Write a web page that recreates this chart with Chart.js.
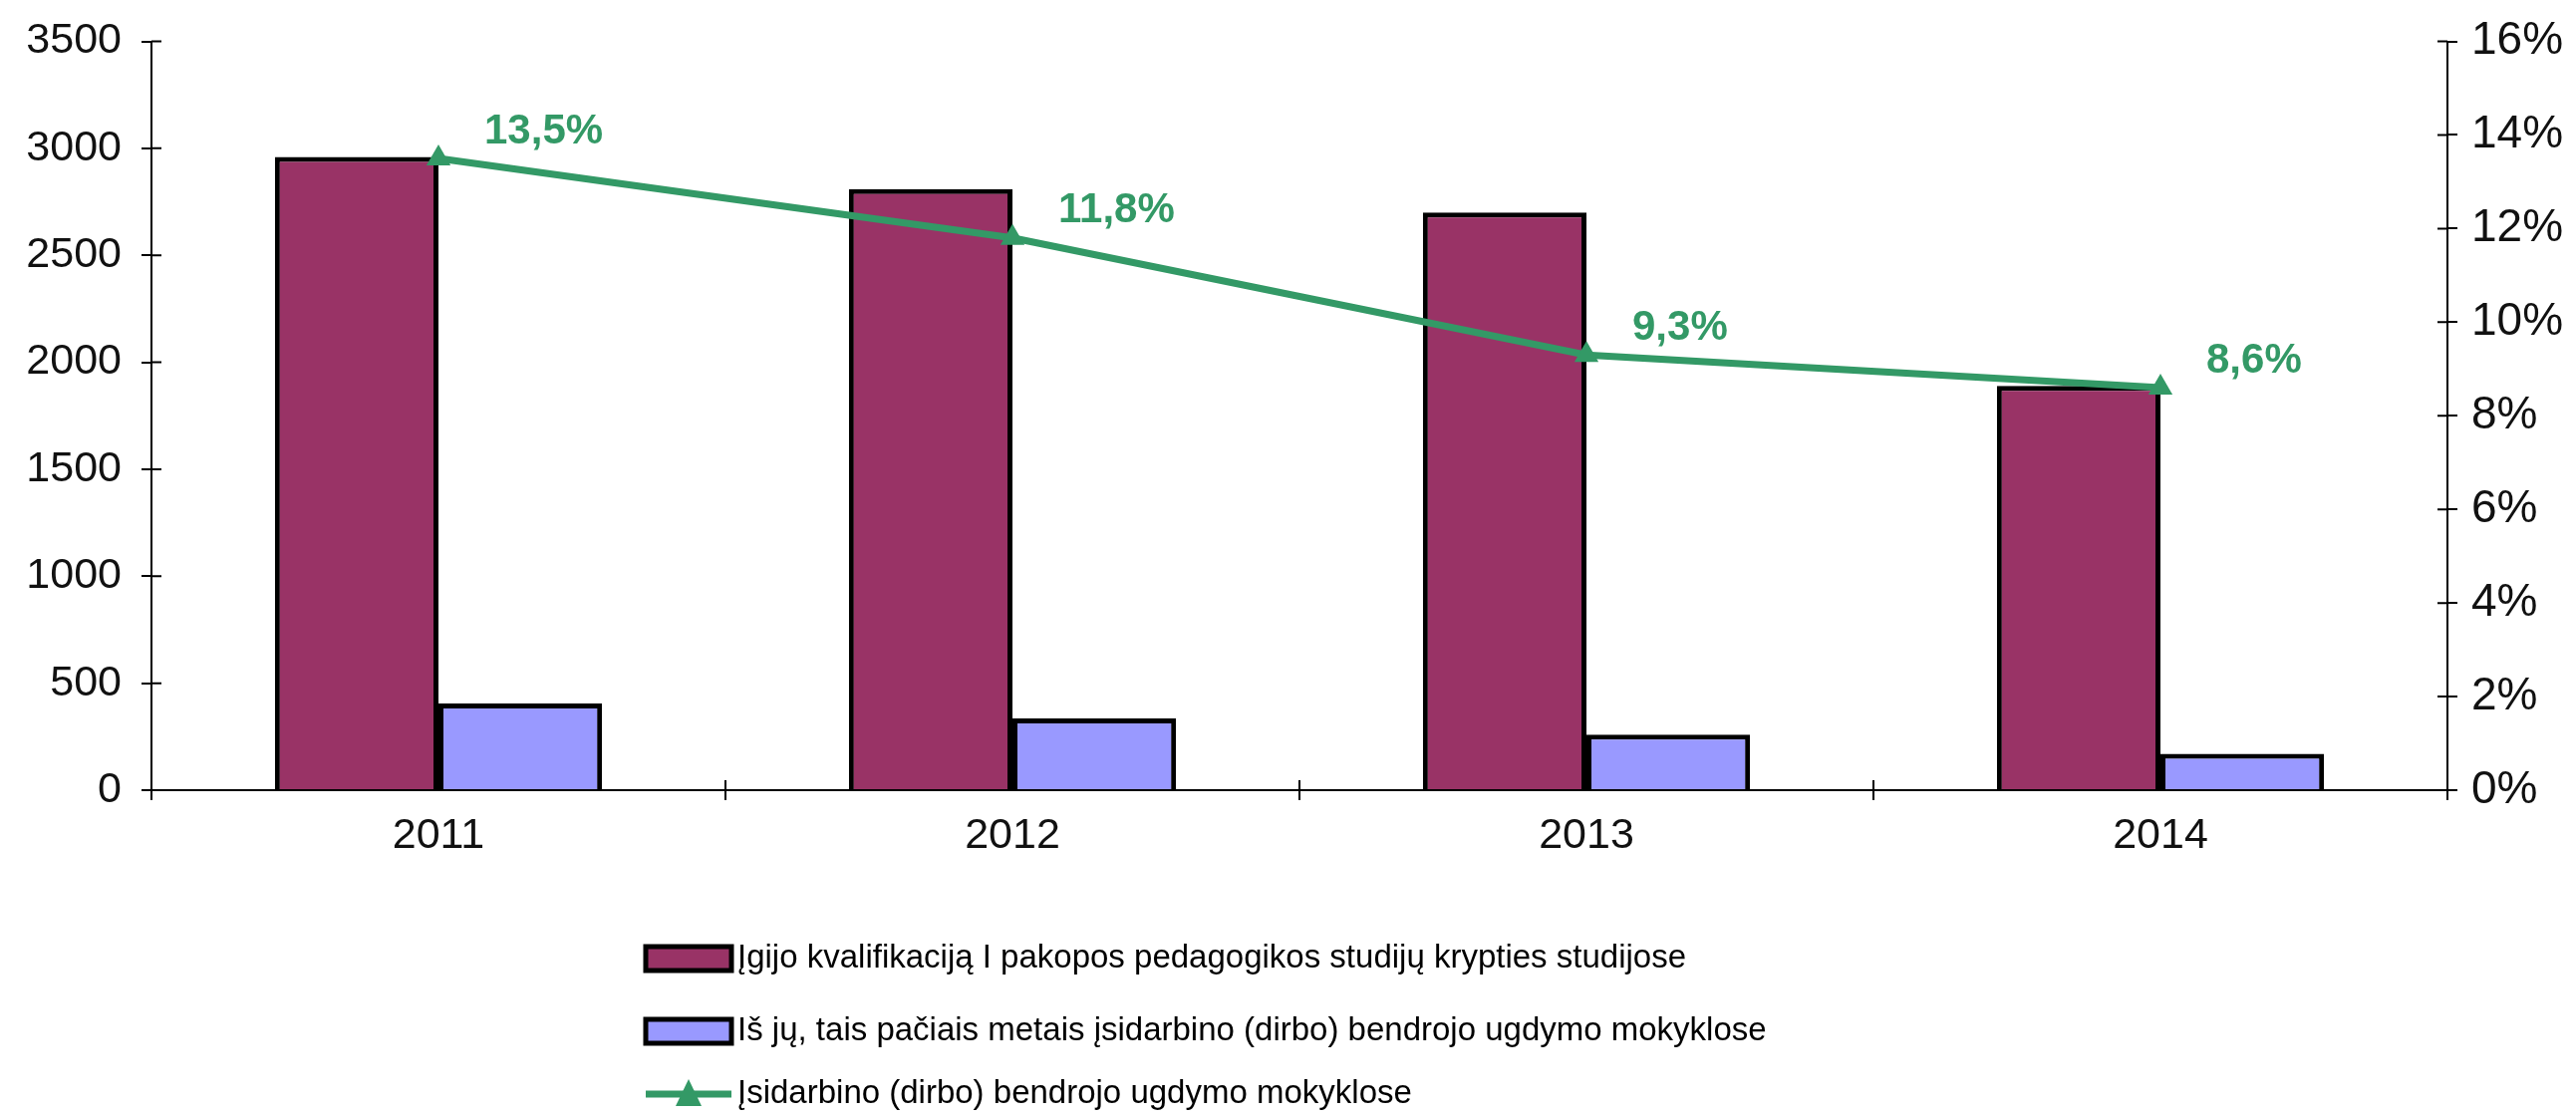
<!DOCTYPE html>
<html>
<head>
<meta charset="utf-8">
<script src="https://cdn.jsdelivr.net/npm/chart.js@4/dist/chart.umd.min.js"></script>
<style>
  html, body { margin: 0; padding: 0; background: #fff; }
  #wrap { width: 2585px; height: 1121px; position: relative; }
</style>
</head>
<body>
<div id="wrap"><canvas id="chart"></canvas></div>
<script>
// Duomenys
const years = ['2011', '2012', '2013', '2014'];
const graduates = [2960, 2810, 2700, 1890];
const employed = [405, 335, 260, 170];
const employedPct = [13.5, 11.8, 9.3, 8.6];
const leftTicks = [0, 500, 1000, 1500, 2000, 2500, 3000, 3500];
const rightTicks = [0, 2, 4, 6, 8, 10, 12, 14, 16];

const labelGraduates = 'Įgijo kvalifikaciją I pakopos pedagogikos studijų krypties studijose';
const labelEmployed = 'Iš jų, tais pačiais metais įsidarbino (dirbo) bendrojo ugdymo mokyklose';
const labelPct = 'Įsidarbino (dirbo) bendrojo ugdymo mokyklose';

const PURPLE = '#993366';
const BLUE = '#9999ff';
const GREEN = '#339966';
const FONT = "'Liberation Sans', Arial, sans-serif";
const TICK = 10;

// Procentų etiketės prie linijos taškų
const pctLabels = {
  id: 'pctLabels',
  afterDatasetsDraw(chart) {
    const ctx = chart.ctx;
    const meta = chart.getDatasetMeta(2);
    ctx.save();
    ctx.font = 'bold 42px ' + FONT;
    ctx.fillStyle = GREEN;
    ctx.textAlign = 'left';
    ctx.textBaseline = 'middle';
    meta.data.forEach((pt, i) => {
      const txt = employedPct[i].toFixed(1).replace('.', ',') + '%';
      ctx.fillText(txt, pt.x + 46, pt.y - 27);
    });
    ctx.restore();
  }
};

// Vidinės žymų dalys (žymos kerta ašį)
const innerTicks = {
  id: 'innerTicks',
  afterDraw(chart) {
    const ctx = chart.ctx;
    const { x, y, y1 } = chart.scales;
    ctx.save();
    ctx.strokeStyle = '#000';
    ctx.lineWidth = 2;
    ctx.beginPath();
    leftTicks.forEach(v => {
      const py = y.getPixelForValue(v);
      ctx.moveTo(y.right, py); ctx.lineTo(y.right + TICK, py);
    });
    rightTicks.forEach(v => {
      const py = y1.getPixelForValue(v);
      ctx.moveTo(y1.left - TICK, py); ctx.lineTo(y1.left, py);
    });
    for (let i = 1; i < years.length; i++) {
      const px = (x.getPixelForValue(i - 1) + x.getPixelForValue(i)) / 2;
      ctx.moveTo(px, x.top - TICK); ctx.lineTo(px, x.top);
    }
    ctx.stroke();
    ctx.restore();
  }
};

// Legenda po grafiku, kiekvienas įrašas atskiroje eilutėje
const bottomLegend = {
  id: 'bottomLegend',
  afterDraw(chart) {
    const ctx = chart.ctx;
    const x0 = 648, rows = [962, 1035, 1098];
    ctx.save();
    ctx.font = '33px ' + FONT;
    ctx.textBaseline = 'middle';
    ctx.fillStyle = '#000';
    chart.data.datasets.forEach((ds, i) => {
      const y = rows[i];
      if (ds.type === 'line') {
        ctx.strokeStyle = ds.borderColor;
        ctx.lineWidth = 7;
        ctx.beginPath();
        ctx.moveTo(x0, y);
        ctx.lineTo(x0 + 86, y);
        ctx.stroke();
        ctx.fillStyle = ds.borderColor;
        ctx.beginPath();
        ctx.moveTo(x0 + 43, y - 15);
        ctx.lineTo(x0 + 56, y + 12);
        ctx.lineTo(x0 + 30, y + 12);
        ctx.closePath();
        ctx.fill();
      } else {
        ctx.fillStyle = ds.backgroundColor;
        ctx.fillRect(x0, y - 12, 86, 24);
        ctx.strokeStyle = '#000';
        ctx.lineWidth = 5;
        ctx.strokeRect(x0, y - 12, 86, 24);
      }
      ctx.fillStyle = '#000';
      ctx.fillText(ds.label, x0 + 92, y);
    });
    ctx.restore();
  }
};

new Chart(document.getElementById('chart'), {
  type: 'bar',
  data: {
    labels: years,
    datasets: [
      {
        label: labelGraduates,
        data: graduates,
        backgroundColor: PURPLE,
        borderColor: '#000',
        borderWidth: 5,
        yAxisID: 'y',
        order: 2,
        categoryPercentage: 0.57,
        barPercentage: 1.0
      },
      {
        label: labelEmployed,
        data: employed,
        backgroundColor: BLUE,
        borderColor: '#000',
        borderWidth: 5,
        yAxisID: 'y',
        order: 2,
        categoryPercentage: 0.57,
        barPercentage: 1.0
      },
      {
        type: 'line',
        label: labelPct,
        data: employedPct,
        borderColor: GREEN,
        backgroundColor: GREEN,
        borderWidth: 7,
        pointStyle: 'triangle',
        pointRadius: 14,
        pointBorderWidth: 0,
        tension: 0,
        yAxisID: 'y1',
        order: 0
      }
    ]
  },
  options: {
    responsive: true,
    maintainAspectRatio: false,
    animation: false,
    layout: { padding: { top: 41, bottom: 248, left: 0, right: 0 } },
    plugins: {
      legend: { display: false },
      tooltip: { enabled: false }
    },
    scales: {
      x: {
        grid: { drawOnChartArea: false, offset: true, tickLength: TICK, tickColor: '#000', lineWidth: 2 },
        border: { display: true, color: '#000', width: 2 },
        ticks: { color: '#111', font: { family: FONT, size: 43 }, padding: 10 },
        afterFit(scale) { scale.height = 80; }
      },
      y: {
        position: 'left',
        min: 0,
        max: 3500,
        afterBuildTicks(scale) { scale.ticks = leftTicks.map(v => ({ value: v })); },
        grid: { drawOnChartArea: false, tickLength: TICK, tickColor: '#000', lineWidth: 2 },
        border: { display: true, color: '#000', width: 2 },
        ticks: { color: '#111', font: { family: FONT, size: 43, lineHeight: 1 }, padding: 20, callback: v => String(v) },
        afterFit(scale) { scale.width = 152; }
      },
      y1: {
        position: 'right',
        min: 0,
        max: 16,
        afterBuildTicks(scale) { scale.ticks = rightTicks.map(v => ({ value: v })); },
        grid: { drawOnChartArea: false, tickLength: TICK, tickColor: '#000', lineWidth: 2 },
        border: { display: true, color: '#000', width: 2 },
        ticks: { color: '#111', font: { family: FONT, size: 46, lineHeight: 1 }, padding: 14, callback: v => v + '%' },
        afterFit(scale) { scale.width = 129; }
      }
    }
  },
  plugins: [pctLabels, innerTicks, bottomLegend]
});
</script>
</body>
</html>
